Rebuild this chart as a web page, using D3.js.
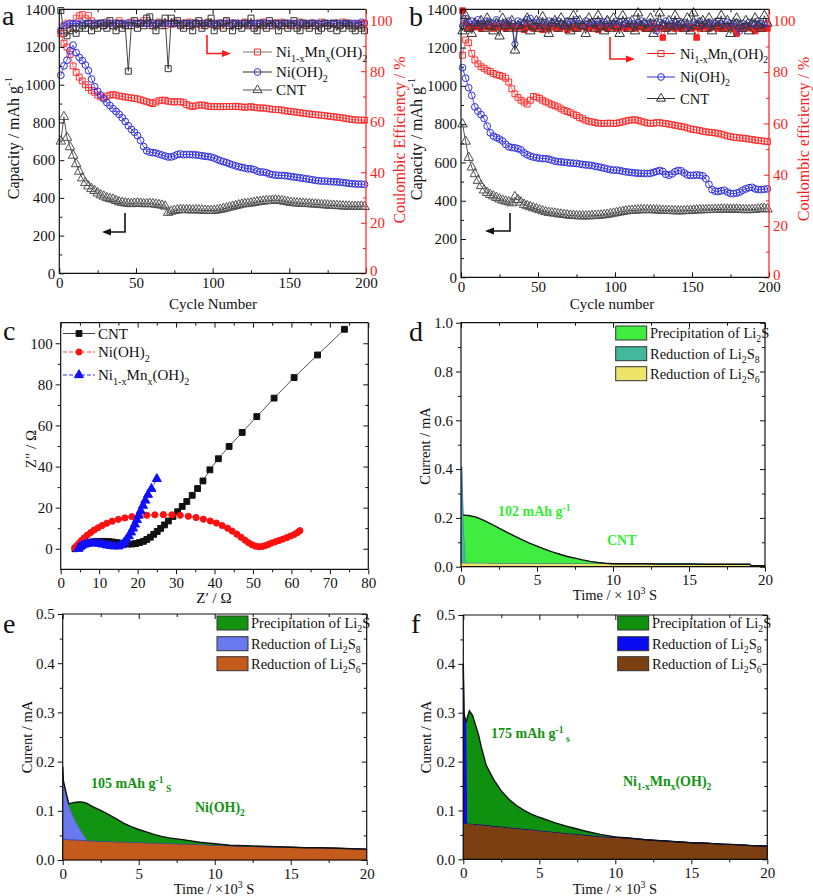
<!DOCTYPE html>
<html><head><meta charset="utf-8">
<script src="https://cdn.jsdelivr.net/npm/d3@7"></script>
<style>body{margin:0;background:#fff}svg{display:block;background:#fff}
svg text, svg tspan{font-family:'Liberation Serif','Tinos','Times New Roman','DejaVu Serif','Noto Serif',serif !important}</style>
</head><body><svg id="c" width="813" height="896"></svg>
<script>
// ================= DATA =================
const cycles = [1,3,5,7,9,11,13,15,17,19,21,23,25,27,29,31,33,35,37,39,41,43,45,47,49,51,53,55,57,59,61,63,65,67,69,71,73,75,77,79,81,83,85,87,89,91,93,95,97,99,101,103,105,107,109,111,113,115,117,119,121,123,125,127,129,131,133,135,137,139,141,143,145,147,149,151,153,155,157,159,161,163,165,167,169,171,173,175,177,179,181,183,185,187,189,191,193,195,197,199];
// panel a capacity (mAh/g)
const aCapNiMn = [1270,1220,1200,1160,1100,1065,1040,1020,1000,985,970,960,945,935,930,940,945,948,945,940,938,935,932,930,928,925,920,915,910,905,900,908,915,918,918,912,910,908,910,910,905,895,888,884,888,892,893,890,886,884,884,885,883,884,885,885,884,886,884,882,880,882,884,880,878,876,877,875,872,870,868,868,866,862,860,858,856,854,852,849,847,845,843,841,840,838,836,834,832,830,828,826,824,821,818,816,814,813,812,812];
const aCapNi = [1050,1100,1130,1180,1210,1170,1145,1128,1105,1075,1030,990,965,945,925,905,890,873,858,843,825,805,783,763,748,730,705,672,650,642,640,638,632,627,622,617,617,622,630,633,629,630,630,629,628,626,623,621,619,616,611,604,597,592,587,581,575,570,565,561,558,554,554,550,542,537,537,534,527,523,521,519,519,518,516,513,511,509,506,504,501,499,496,493,491,489,489,488,486,485,485,483,481,479,477,475,474,473,473,471];
const aCapCNT = [700,830,720,670,625,580,540,505,480,462,448,438,425,415,408,400,395,392,385,378,375,372,370,368,370,372,370,368,368,370,368,365,363,360,355,322,328,332,335,337,336,337,336,335,336,335,334,333,332,332,333,335,338,342,346,350,354,358,362,366,368,370,372,375,378,380,382,384,385,386,388,386,384,381,378,375,373,372,371,370,369,368,367,366,365,363,362,361,360,359,358,357,356,355,355,354,354,354,355,353];
// panel a coulombic efficiency (%)
const aCeNiMn = [96,98,99,97,99,101,102,102.5,101,102,100,99,98.5,99,98,99.5,99,98,99,100,98.5,99,98,99.5,99,98.5,99,100,99,98,99,98.5,99.5,99,98,99,98.5,99.5,99,98.5,99,98,99.5,99,98.5,99,98,99,99.5,98.5,99,98.5,99,98,99.5,99,98.5,99,98,99,99.5,98.5,99,98,99,98.5,99.5,99,98,99,98.5,99,99.5,98,99,98.5,99,98,99.5,99,98.5,99,98,99,98.5,99.5,99,98,99,98.5,99,98,99.5,99,98.5,99,98,99,98.5,99];
const aCeNi = [96,98,98.5,99,98.8,99.1,98.6,99.2,98.7,99,98.9,99.1,98.8,99,99.2,98.7,99,98.9,99.1,98.8,99,98.7,99.2,98.9,99,98.8,99.1,98.9,99,98.7,99.1,98.9,99,98.8,99.2,98.9,99,98.7,99,98.9,99.1,98.8,99,98.9,99.2,98.7,99,98.9,99.1,98.8,99,98.9,99.1,98.7,99,98.9,99.2,98.8,99,98.9,99.1,98.7,99,98.9,99,98.8,99.2,98.9,99,98.7,99.1,98.9,99,98.8,99.1,98.9,99,98.7,99.2,98.9,99,98.8,99.1,98.9,99,98.7,99.1,98.9,99,98.8,99.2,98.9,99,98.7,99.1,98.9,99,98.8,99.5,99];
const aCeCNT = [104,95,94,96,97,95,97,98,97,99,96,98,97,99,98,97,100,98,96,99,97,98,80,98,100,97,99,98,101,101.5,98,96,99,98,101,81,101,99,100,98,97,99,98,96,99,100,97,98,99,101,96,98,99,97,100,98,96,99,98,97,99,98,101,97,96,99,98,97,100,98,99,96,98,99,97,98,100,97,96,99,98,97,99,98,96,97,99,98,97,99,96,98,97,99,98,97,96,98,97,96];
// panel b capacity
const bCapNiMn = [1160,1240,1225,1170,1135,1115,1100,1092,1082,1075,1065,1058,1055,1050,1040,1020,985,958,940,925,915,905,925,945,942,935,925,917,910,902,896,890,880,872,866,860,852,845,835,828,820,815,812,808,805,804,804,805,805,803,805,808,812,816,820,822,823,820,815,810,806,804,805,808,808,805,803,800,797,794,791,788,785,780,775,772,770,767,763,760,758,756,754,752,748,743,738,735,732,730,728,727,725,722,720,717,715,713,711,709];
const bCapNi = [1095,1040,990,950,890,868,850,830,790,755,738,730,722,712,695,682,678,676,672,665,650,640,633,628,625,622,620,620,617,612,607,604,603,601,599,597,596,595,592,589,587,586,584,580,577,574,570,566,562,560,560,558,554,551,549,547,545,544,543,543,542,543,548,553,558,553,538,533,540,552,558,556,545,535,532,533,535,533,530,515,485,458,450,448,452,455,445,438,437,440,445,455,462,468,470,462,458,458,460,462];
const bCapCNT = [800,710,625,575,540,505,478,455,442,432,424,416,408,402,397,393,388,420,405,392,380,373,368,362,357,352,346,342,338,336,334,331,329,327,325,323,322,321,320,320,320,320,321,322,323,324,326,328,331,334,337,340,343,346,348,349,350,351,352,352,353,352,352,351,350,349,348,348,347,347,346,346,347,348,349,350,351,352,352,352,353,353,354,354,355,355,355,355,355,355,354,353,352,352,353,354,356,358,359,356];
// panel b coulombic efficiency
const bCeNiMn = [104,99,97,98,97.5,98,97,98.5,97.5,98,97,98,97.5,98,97,98.5,97.5,97,98,97.5,96.5,98,97.5,97,98,97.5,96.5,98,97,97.5,98,97,97.5,98,96.5,97.5,98,97,97.5,98,97.5,97,98,97.5,96.5,97.5,98,97,97.5,98,97,98,97.5,97,98,97.5,97,98,97.5,97,97.5,97,98,97,97.5,93.5,97,97.5,98,97,97.5,97,97.5,98,97,97.5,93.5,97,98,97.5,97,97.5,98,97,97.5,97,97.5,98,97,95,97.5,97,98,97.5,97,96,97.5,97,97.5,97];
const bCeNi = [98,101,99.5,100,99,100.5,99,98.5,100,99.5,99,100.5,99,98.5,99.5,100,99,91,100,99.5,99,100.5,101,99.5,99,100,98.5,99.5,100,99,99.5,100,99,98.5,100,99.5,99,100.5,99,98.5,100,99,99.5,98.5,100,99,99.5,100,98.5,99,100,99.5,98.5,99,100,99,98.5,99.5,100,99,98.5,99.5,99,96,99.5,99,100,98.5,99,99.5,98.5,99,99.5,97,98,99.5,99,100,98.5,99,99.5,98.5,99,100,99,98.5,99.5,99,98,99.5,96,99,98.5,99.5,99,98.5,100,99,98.5,99];
const bCeCNT = [96,102,97,95,99,98,100,97,101,98,96,99,94,101,98,97,100,88.5,98,97,99,101,96,98,100,97,101.5,98,95,99,100,97,101,98,99,96,102,97,100,98,95,101,99,97,102,98,96,100,97,101,98,95,102,99,97,100,96,103,98,99,97,101,95,99,103,98,97,100,96,102,98,99,97,101,96,103,98,99,100,97,101,96,99,98,102,97,100,95,99,101,98,97,100,96,99,101,98,97,102,99];
// panel c Nyquist (Z' , Z'' in ohm)
const cCntX = [3.7,4.2,4.8,5.5,6.3,7.2,8.2,9.2,10.3,11.4,12.5,13.5,14.5,15.5,16.5,17.5,18.5,19.5,20.5,21.5,22.4,23.3,24.2,25.1,26.0,27.0,28.0,29.2,30.4,31.6,32.8,34.2,35.6,37.0,38.8,41.0,43.8,47.2,51.0,55.5,60.7,66.8,73.8];
const cCntY = [0,0.8,1.5,2.1,2.6,3.0,3.3,3.5,3.6,3.6,3.5,3.3,3.0,2.7,2.4,2.3,2.3,2.5,3.0,3.6,4.5,5.6,7.0,8.4,9.9,11.6,13.5,15.7,18.0,20.6,23.0,26.0,29.3,33.0,38.4,43.8,49.8,56.6,64.3,73.3,83.3,94.3,106.8];
const cNiX = [3.7,4.2,4.8,5.4,6.1,6.9,7.8,8.7,9.7,10.8,12.0,13.4,15.0,16.7,18.5,20.4,22.4,24.5,26.7,28.9,31.1,33.2,35.2,37.1,38.9,40.5,42.0,43.4,44.6,45.8,46.9,47.9,48.8,49.7,50.6,51.5,52.4,53.2,54.0,54.9,55.8,56.8,57.8,58.8,59.8,60.8,61.6,62.2];
const cNiY = [0.3,1.5,2.8,4.0,5.3,6.6,7.9,9.1,10.2,11.3,12.4,13.4,14.3,15.0,15.6,16.0,16.3,16.5,16.6,16.5,16.3,15.8,15.2,14.4,13.5,12.5,11.3,10.0,8.6,7.1,5.6,4.2,3.0,2.0,1.3,1.0,1.1,1.5,2.1,2.8,3.4,4.0,4.7,5.4,6.2,7.0,7.9,8.8];
const cMnX = [4.6,5.0,5.5,6.2,7.0,8.0,9.0,10.0,11.0,12.0,13.0,14.0,15.0,15.8,16.5,17.1,17.7,18.3,18.8,19.3,19.8,20.3,20.8,21.4,22.0,22.7,23.6,25.0];
const cMnY = [0,0.8,1.5,2.1,2.5,2.7,2.7,2.5,2.1,1.7,1.4,1.2,1.2,1.8,3.0,4.5,6.2,8.0,9.9,11.9,14.0,16.2,18.4,21.0,23.5,26.3,29.2,34.0];
// panel d (CNT) potentiostatic current, mA vs time (10^3 s)
const dT = [0,0.05,0.1,0.15,0.3,0.5,1,1.5,2,2.5,3,3.5,4,4.5,5,5.5,6,6.5,7,7.5,8,8.5,9,9.5,10,11,12,13,14,15,16,17,18,19,19.1,20];
const dTotal = [0.02,0.41,0.3,0.212,0.211,0.21,0.203,0.19,0.175,0.158,0.142,0.126,0.111,0.097,0.084,0.072,0.061,0.051,0.042,0.035,0.028,0.022,0.017,0.014,0.012,0.012,0.012,0.011,0.011,0.011,0.010,0.010,0.010,0.010,0.004,0.004];
const dS6 = [0.016,0.016,0.016,0.016,0.016,0.016,0.016,0.016,0.015,0.015,0.015,0.015,0.015,0.015,0.014,0.014,0.014,0.014,0.014,0.014,0.013,0.013,0.013,0.013,0.012,0.012,0.012,0.011,0.011,0.011,0.010,0.010,0.010,0.010,0.004,0.004];
const dS8 = [0.016,0.41,0.3,0.21,0.016,0.016,0.016,0.016,0.015,0.015,0.015,0.015,0.015,0.015,0.014,0.014,0.014,0.014,0.014,0.014,0.013,0.013,0.013,0.013,0.012,0.012,0.012,0.011,0.011,0.011,0.010,0.010,0.010,0.010,0.004,0.004];
// panel e (Ni(OH)2)
const eT = [0,0.05,0.2,0.4,0.6,0.8,1.0,1.2,1.4,1.6,2,2.5,3,3.5,4,4.5,5,5.5,6,6.5,7,7.5,8,9,10,11,12,13,14,15,16,17,18,19,20];
const eS6 = [0.042,0.042,0.042,0.041,0.041,0.041,0.040,0.040,0.040,0.039,0.039,0.038,0.038,0.037,0.037,0.036,0.036,0.035,0.035,0.034,0.034,0.033,0.033,0.032,0.030,0.029,0.028,0.027,0.027,0.026,0.025,0.025,0.024,0.023,0.022];
const eS8 = [0.16,0.155,0.135,0.112,0.095,0.082,0.070,0.060,0.050,0.040,0.039,0.038,0.038,0.037,0.037,0.036,0.036,0.035,0.035,0.034,0.034,0.033,0.033,0.032,0.030,0.029,0.028,0.027,0.027,0.026,0.025,0.025,0.024,0.023,0.022];
const eTotal = [0.19,0.16,0.14,0.114,0.116,0.117,0.118,0.118,0.117,0.115,0.108,0.101,0.093,0.084,0.075,0.068,0.062,0.057,0.052,0.048,0.045,0.043,0.041,0.036,0.033,0.030,0.029,0.028,0.027,0.026,0.025,0.025,0.024,0.023,0.022];
// panel f (Ni1-xMnx(OH)2)
const fT = [0,0.05,0.1,0.2,0.26,0.4,0.6,0.8,1.0,1.2,1.5,2,2.5,3,3.5,4,4.5,5,6,7,8,9,10,11,12,13,14,15,16,17,18,19,20];
const fS6 = [0.074,0.074,0.074,0.074,0.074,0.073,0.073,0.072,0.071,0.071,0.070,0.068,0.067,0.065,0.064,0.062,0.061,0.059,0.056,0.053,0.050,0.047,0.045,0.043,0.040,0.038,0.036,0.034,0.033,0.031,0.030,0.028,0.027];
const fS8 = [0.40,0.30,0.29,0.28,0.074,0.073,0.073,0.072,0.071,0.071,0.070,0.068,0.067,0.065,0.064,0.062,0.061,0.059,0.056,0.053,0.050,0.047,0.045,0.043,0.040,0.038,0.036,0.034,0.033,0.031,0.030,0.028,0.027];
const fTotal = [0.40,0.30,0.29,0.28,0.29,0.304,0.295,0.275,0.255,0.228,0.193,0.163,0.14,0.123,0.11,0.10,0.092,0.086,0.075,0.066,0.058,0.051,0.046,0.043,0.040,0.038,0.036,0.034,0.033,0.031,0.030,0.028,0.027];
// ticks
const cycTicks = [0,50,100,150,200], cycMinor = [25,75,125,175];
const capTicks = [0,200,400,600,800,1000,1200,1400], capMinor = [100,300,500,700,900,1100,1300];
const ceTicks = [0,20,40,60,80,100], ceMinor = [10,30,50,70,90];
const zxTicks = [0,10,20,30,40,50,60,70,80], zxMinor = [5,15,25,35,45,55,65,75];
const zyTicks = [0,20,40,60,80,100], zyMinor = [10,30,50,70,90];
const tTicks = [0,5,10,15,20], tMinor = [2.5,7.5,12.5,17.5];
const dITicks = [0,0.2,0.4,0.6,0.8,1.0], dIMinor = [0.1,0.3,0.5,0.7,0.9];
const efITicks = [0,0.1,0.2,0.3,0.4,0.5], efIMinor = [0.05,0.15,0.25,0.35,0.45];
// labels
const NIMN = [['Ni'],['1-x','sub'],['Mn'],['x','sub'],['(OH)'],['2','sub']];
const NIOH = [['Ni(OH)'],['2','sub']];
const kinLegend = [[['Precipitation of Li'],['2','sub'],['S']],[['Reduction of Li'],['2','sub'],['S'],['8','sub']],[['Reduction of Li'],['2','sub'],['S'],['6','sub']]];

// ================= HELPERS =================
const SERIF = "'Liberation Serif','Tinos','Times New Roman','DejaVu Serif',serif";
const RED = '#ff1a1a';
const svg = d3.select('#c');

function rich(sel, parts, fs) {
  let shift = 0;
  parts.forEach(([t, k]) => {
    const target = k === 'sub' ? fs * 0.3 : k === 'sup' ? -fs * 0.38 : 0;
    const ts = sel.append('tspan').attr('font-size', k ? fs * 0.68 : fs).text(t);
    if (target - shift !== 0) ts.attr('dy', target - shift);
    shift = target;
  });
  return sel;
}
function label(x, y, parts, o = {}) {
  const fs = o.fs || 15;
  const t = svg.append('text').attr('x', x).attr('y', y).attr('font-size', fs)
    .attr('font-family', SERIF).attr('fill', o.fill || '#111').attr('text-anchor', o.anchor || 'start');
  if (o.bold) t.attr('font-weight', 'bold');
  if (o.rot) t.attr('transform', `rotate(-90 ${x} ${y})`);
  return rich(t, parts, fs);
}
function panelAxes(P, x, y, o) {
  const g = svg.append('g');
  const maj = o.inward ? -5 : 5, mn = o.inward ? -3 : 3, pad = o.inward ? 4 : 3;
  function put(axis, tx, ty, color) {
    const a = g.append('g').attr('transform', `translate(${tx},${ty})`).call(axis);
    a.select('.domain').remove();
    a.attr('font-family', SERIF).attr('font-size', 15);
    a.selectAll('line').attr('stroke', color).attr('stroke-width', 1);
    a.selectAll('text').attr('fill', color);
    return a;
  }
  put(d3.axisBottom(x).tickValues(o.xMaj).tickSizeInner(maj).tickSizeOuter(0).tickPadding(pad).tickFormat(o.xFmt), 0, P.b, '#111');
  put(d3.axisBottom(x).tickValues(o.xMin).tickSizeInner(mn).tickSizeOuter(0).tickFormat(''), 0, P.b, '#111');
  put(d3.axisBottom(x).tickValues(o.xMaj).tickSizeInner(5).tickSizeOuter(0).tickFormat(''), 0, P.t, '#111');
  put(d3.axisBottom(x).tickValues(o.xMin).tickSizeInner(3).tickSizeOuter(0).tickFormat(''), 0, P.t, '#111');
  put(d3.axisLeft(y).tickValues(o.yMaj).tickSizeInner(maj).tickSizeOuter(0).tickPadding(pad).tickFormat(o.yFmt), P.l, 0, '#111');
  put(d3.axisLeft(y).tickValues(o.yMin).tickSizeInner(mn).tickSizeOuter(0).tickFormat(''), P.l, 0, '#111');
  if (o.yR) {
    const r = put(d3.axisRight(o.yR).tickValues(ceTicks).tickSizeInner(maj).tickSizeOuter(0).tickPadding(pad).tickFormat(d3.format('d')), P.r, 0, RED);
    r.selectAll('.tick').filter(d => d === 0).select('text').attr('dy', '0.12em');
    put(d3.axisRight(o.yR).tickValues(ceMinor).tickSizeInner(mn).tickSizeOuter(0).tickFormat(''), P.r, 0, RED);
  } else {
    put(d3.axisLeft(y).tickValues(o.yMaj).tickSizeInner(5).tickSizeOuter(0).tickFormat(''), P.r, 0, '#111');
    put(d3.axisLeft(y).tickValues(o.yMin).tickSizeInner(3).tickSizeOuter(0).tickFormat(''), P.r, 0, '#111');
  }
  g.append('path').attr('d', `M${P.r},${P.t}H${P.l}V${P.b}H${P.r}`).attr('fill', 'none').attr('stroke', '#111').attr('stroke-width', 1.2);
  g.append('line').attr('x1', P.r).attr('x2', P.r).attr('y1', P.t).attr('y2', P.b).attr('stroke', o.yR ? RED : '#111').attr('stroke-width', 1.2);
}
const SYM = {sq: d3.symbolSquare, ci: d3.symbolCircle, tr: d3.symbolTriangle};
function series(x, y, xs, ys, o) {
  const pts = xs.map((v, i) => [v, ys[i]]);
  const g = svg.append('g');
  g.append('path').datum(pts).attr('d', d3.line().x(d => x(d[0])).y(d => y(d[1])))
    .attr('fill', 'none').attr('stroke', o.line).attr('stroke-width', o.lw || 1).attr('stroke-dasharray', o.dash || null);
  g.selectAll('path.m').data(pts).join('path').attr('class', 'm')
    .attr('transform', d => `translate(${x(d[0])},${y(d[1])})`)
    .attr('d', d3.symbol(SYM[o.sym], o.size || 36)())
    .attr('fill', o.fill || 'none').attr('stroke', o.color).attr('stroke-width', 1);
}
function legendEntry(x1, x2, yy, o, parts, tx, fs) {
  svg.append('line').attr('x1', x1).attr('x2', x2).attr('y1', yy).attr('y2', yy).attr('stroke', o.line).attr('stroke-width', 1).attr('stroke-dasharray', o.dash || null);
  svg.append('path').attr('transform', `translate(${(x1 + x2) / 2},${yy})`).attr('d', d3.symbol(SYM[o.sym], o.size || 36)())
    .attr('fill', o.fill || 'none').attr('stroke', o.color).attr('stroke-width', 1);
  label(tx, yy + 5, parts, {fs: fs || 15});
}
function arrow(pts, color, dir) {
  svg.append('path').attr('d', d3.line()(pts)).attr('fill', 'none').attr('stroke', color).attr('stroke-width', 1.6);
  const [ex, ey] = pts[pts.length - 1];
  const s = dir === 'r' ? 1 : -1;
  svg.append('path').attr('d', `M${ex},${ey - 3.5}L${ex + s * 9},${ey}L${ex},${ey + 3.5}Z`).attr('fill', color);
}
function kinetics(x, y, T, S6, S8, TOT, col, from) {
  const zero = T.map(() => 0);
  const lo = S8.map((v, i) => Math.max(v, S6[i]));
  const area = (a0, a1) => d3.area().x((d, i) => x(T[i])).y0((d, i) => y(a0[i])).y1((d, i) => y(a1[i]));
  svg.append('path').datum(T).attr('d', area(zero, S6)).attr('fill', col.s6).attr('stroke', col.s6e).attr('stroke-width', 0.8);
  svg.append('path').datum(T).attr('d', area(S6, S8)).attr('fill', col.s8).attr('stroke', col.s8e).attr('stroke-width', 0.8);
  svg.append('path').datum(T).attr('d', area(lo, TOT)).attr('fill', col.s2).attr('stroke', 'none');
  const idx = T.map((d, i) => i).filter(i => i >= from);
  svg.append('path').datum(idx).attr('d', d3.line().x(i => x(T[i])).y(i => y(TOT[i])))
    .attr('fill', 'none').attr('stroke', '#111').attr('stroke-width', 1.4);
}
function kinLeg(bx, bys, tx, col) {
  const fills = [col.s2, col.s8, col.s6];
  bys.forEach((by, i) => {
    svg.append('rect').attr('x', bx).attr('y', by).attr('width', 31).attr('height', 14).attr('fill', fills[i]).attr('stroke', '#333').attr('stroke-width', 1);
    label(tx, by + 12, kinLegend[i], {fs: 14.5});
  });
}

// ================= PANEL a =================
{
  const P = {l: 59.3, r: 366, t: 9.3, b: 273.3};
  const x = d3.scaleLinear([0, 200], [P.l, P.r]);
  const y = d3.scaleLinear([0, 1400], [P.b, P.t]);
  const yR = d3.scaleLinear([0, 104.5], [P.b, P.t]);
  series(x, yR, cycles, aCeNiMn, {sym: 'sq', color: '#ff4d4d', line: '#ff8080', size: 34});
  series(x, yR, cycles, aCeNi, {sym: 'ci', color: '#3a3ae0', line: '#3a3ae0', size: 30});
  series(x, yR, cycles, aCeCNT, {sym: 'sq', color: '#333', line: '#444', size: 36});
  series(x, y, cycles, aCapNiMn, {sym: 'sq', color: '#ff3030', line: '#ff7070', size: 34});
  series(x, y, cycles, aCapNi, {sym: 'ci', color: '#2f2fdc', line: '#5555e8', size: 36});
  series(x, y, cycles, aCapCNT, {sym: 'tr', color: '#505050', line: '#555', size: 40});
  panelAxes(P, x, y, {inward: true, xMaj: cycTicks, xMin: cycMinor, yMaj: capTicks, yMin: capMinor, xFmt: d3.format('d'), yFmt: d3.format('d'), yR: yR});
  legendEntry(243, 272, 52, {sym: 'sq', color: '#ff3030', line: '#777'}, NIMN, 276);
  legendEntry(243, 272, 72, {sym: 'ci', color: '#2f2fdc', line: '#333'}, NIOH, 276);
  legendEntry(243, 272, 90, {sym: 'tr', color: '#444', line: '#555'}, [['CNT']], 276);
  arrow([[207, 35], [207, 53.5], [222, 53.5]], RED, 'r');
  arrow([[125, 213], [125, 232], [111, 232]], '#111', 'l');
  label(18.5, 138, [['Capacity / mAh g'], ['-1', 'sup']], {rot: true, anchor: 'middle', fs: 16});
  label(405, 140, [['Coulombic Efficiency / %']], {rot: true, anchor: 'middle', fs: 16, fill: RED});
  label(213, 309, [['Cycle Number']], {anchor: 'middle', fs: 15});
  label(2, 25, [['a']], {fs: 28});
}
// ================= PANEL b =================
{
  const P = {l: 461, r: 769, t: 9.3, b: 277.3};
  const x = d3.scaleLinear([0, 200], [P.l, P.r]);
  const y = d3.scaleLinear([0, 1400], [P.b, P.t]);
  const yR = d3.scaleLinear([0, 104.5], [P.b, P.t]);
  series(x, yR, cycles, bCeNiMn, {sym: 'sq', color: '#ff2020', line: '#ff6060', size: 30, fill: '#ff2020'});
  series(x, yR, cycles, bCeNi, {sym: 'ci', color: '#3a3ae0', line: '#4a4ae8', size: 30});
  series(x, yR, cycles, bCeCNT, {sym: 'tr', color: '#333', line: '#444', size: 40});
  series(x, y, cycles, bCapNiMn, {sym: 'sq', color: '#ff3030', line: '#ff7070', size: 34});
  series(x, y, cycles, bCapNi, {sym: 'ci', color: '#2f2fdc', line: '#5555e8', size: 36});
  series(x, y, cycles, bCapCNT, {sym: 'tr', color: '#505050', line: '#555', size: 40});
  panelAxes(P, x, y, {inward: true, xMaj: cycTicks, xMin: cycMinor, yMaj: capTicks, yMin: capMinor, xFmt: d3.format('d'), yFmt: d3.format('d'), yR: yR});
  legendEntry(647, 675, 53.5, {sym: 'sq', color: '#ff3030', line: RED}, NIMN, 680, 14.5);
  legendEntry(647, 675, 77, {sym: 'ci', color: '#2f2fdc', line: '#2f2fdc'}, NIOH, 680, 14.5);
  legendEntry(647, 675, 98.5, {sym: 'tr', color: '#333', line: '#333'}, [['CNT']], 680, 14.5);
  arrow([[610, 37], [610, 59], [626, 59]], RED, 'r');
  arrow([[510, 213], [510, 231], [494, 231]], '#111', 'l');
  label(421.5, 139, [['Capacity / mAh g'], ['-1', 'sup']], {rot: true, anchor: 'middle', fs: 16});
  label(809, 139, [['Coulombic efficiency / %']], {rot: true, anchor: 'middle', fs: 16, fill: RED});
  label(612, 309, [['Cycle number']], {anchor: 'middle', fs: 15});
  label(409, 26, [['b']], {fs: 28});
}
// ================= PANEL c =================
{
  const P = {l: 60.7, r: 368.3, t: 322.7, b: 569.3};
  const x = d3.scaleLinear([0, 80], [P.l, P.r]);
  const y = d3.scaleLinear([-10, 110], [P.b, P.t]);
  series(x, y, cCntX, cCntY, {sym: 'sq', color: '#111', fill: '#111', line: '#555', size: 34});
  series(x, y, cNiX, cNiY, {sym: 'ci', color: '#ff1010', fill: '#ff1010', line: '#ff4040', size: 30, dash: '4,2'});
  series(x, y, cMnX, cMnY, {sym: 'tr', color: '#1010ff', fill: '#1010ff', line: '#3030ff', size: 36, dash: '4,2'});
  panelAxes(P, x, y, {xMaj: zxTicks, xMin: zxMinor, yMaj: zyTicks, yMin: zyMinor, xFmt: d3.format('d'), yFmt: d3.format('d')});
  legendEntry(63, 95, 333.5, {sym: 'sq', color: '#111', fill: '#111', line: '#444', size: 34}, [['CNT']], 98);
  legendEntry(63, 95, 352, {sym: 'ci', color: '#ff1010', fill: '#ff1010', line: '#ff4040', size: 30, dash: '4,2'}, NIOH, 98);
  legendEntry(63, 95, 375, {sym: 'tr', color: '#1010ff', fill: '#1010ff', line: '#3030ff', size: 36, dash: '4,2'}, NIMN, 98);
  label(36, 449, [['Z″ / Ω']], {rot: true, anchor: 'middle', fs: 15});
  label(214, 603, [['Z′ / Ω']], {anchor: 'middle', fs: 15});
  label(3, 340, [['c']], {fs: 28});
}
// ================= PANEL d =================
{
  const P = {l: 461, r: 765, t: 322.7, b: 566.7};
  const x = d3.scaleLinear([0, 20], [P.l, P.r]);
  const y = d3.scaleLinear([0, 1.0], [P.b, P.t]);
  const col = {s6: '#eee46a', s6e: '#c8bd40', s8: '#43b89c', s8e: '#2f6fb0', s2: '#3fec3f'};
  kinetics(x, y, dT, dS6, dS8, dTotal, col, 3);
  panelAxes(P, x, y, {xMaj: tTicks, xMin: tMinor, yMaj: dITicks, yMin: dIMinor, xFmt: d3.format('d'), yFmt: d3.format('.1f')});
  kinLeg(615.7, [326, 346.7, 366.7], 650, col);
  label(498, 516, [['102 mAh g'], ['-1', 'sup']], {fs: 14, bold: true, fill: '#33ee33'});
  label(607, 545, [['CNT']], {fs: 14, bold: true, fill: '#33ee33'});
  label(430, 446, [['Current / mA']], {rot: true, anchor: 'middle', fs: 14.5});
  label(615, 600, [['Time / × 10'], ['3', 'sup'], [' S']], {anchor: 'middle', fs: 14.5});
  label(409, 341, [['d']], {fs: 28});
}
// ================= PANEL e =================
{
  const P = {l: 62.7, r: 366.7, t: 614, b: 860};
  const x = d3.scaleLinear([0, 20], [P.l, P.r]);
  const y = d3.scaleLinear([0, 0.5], [P.b, P.t]);
  const col = {s6: '#c45a1c', s6e: '#8a3c10', s8: '#6a78ee', s8e: '#3040b0', s2: '#129412'};
  kinetics(x, y, eT, eS6, eS8, eTotal, col, 0);
  panelAxes(P, x, y, {xMaj: tTicks, xMin: tMinor, yMaj: efITicks, yMin: efIMinor, xFmt: d3.format('d'), yFmt: d3.format('.1f')});
  kinLeg(217, [616, 636.7, 656.7], 251, col);
  label(91, 788, [['105 mAh g'], ['-1', 'sup'], [' S', 'sub']], {fs: 14, bold: true, fill: '#119411'});
  label(195, 812, NIOH, {fs: 14, bold: true, fill: '#119411'});
  label(32, 737, [['Curent / mA']], {rot: true, anchor: 'middle', fs: 14.5});
  label(214, 893.5, [['Time / ×10'], ['3', 'sup'], [' S']], {anchor: 'middle', fs: 14.5});
  label(3, 633, [['e']], {fs: 28});
}
// ================= PANEL f =================
{
  const P = {l: 463.3, r: 767.3, t: 615, b: 859.3};
  const x = d3.scaleLinear([0, 20], [P.l, P.r]);
  const y = d3.scaleLinear([0, 0.5], [P.b, P.t]);
  const col = {s6: '#7b3f12', s6e: '#4a250a', s8: '#0a0af0', s8e: '#0000a0', s2: '#0f900f'};
  kinetics(x, y, fT, fS6, fS8, fTotal, col, 0);
  panelAxes(P, x, y, {xMaj: tTicks, xMin: tMinor, yMaj: efITicks, yMin: efIMinor, xFmt: d3.format('d'), yFmt: d3.format('.1f')});
  kinLeg(617.7, [616, 636.7, 656.7], 652, col);
  label(491, 738, [['175 mAh g'], ['-1', 'sup'], [' s', 'sub']], {fs: 14, bold: true, fill: '#119411'});
  label(623, 786, NIMN, {fs: 14, bold: true, fill: '#119411'});
  label(431, 737, [['Curent / mA']], {rot: true, anchor: 'middle', fs: 14.5});
  label(615, 893.5, [['Time / × 10'], ['3', 'sup'], [' S']], {anchor: 'middle', fs: 14.5});
  label(411, 633, [['f']], {fs: 28});
}
</script></body></html>
